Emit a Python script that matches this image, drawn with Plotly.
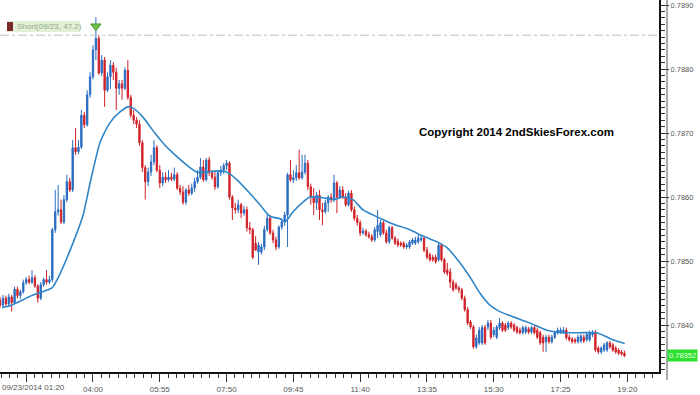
import plotly.graph_objects as go

PT = 1e-5  # prices below are given in points (0.00001)

opens = [
    78439,78431,78442,78433,78444,78435,78456,78446,78452,78466,
    78471,78467,78474,78461,78442,78463,78471,78467,78471,78549,
    78577,78580,78561,78596,78624,78611,78677,78671,78678,78728,
    78713,78760,78788,78830,78848,78794,78814,78767,78788,78806,
    78795,78770,78777,78770,78798,78756,78728,78720,78714,78685,
    78646,78624,78639,78655,78677,78642,78622,78631,78627,78631,
    78628,78635,78614,78608,78592,78611,78606,78614,78624,78631,
    78647,78627,78658,78638,78631,78616,78638,78642,78649,78653,
    78600,78583,78580,78588,78575,78580,78552,78549,78528,78514,
    78514,78522,78549,78567,78544,78533,78522,78553,78561,78572,
    78635,78627,78630,78638,78630,78639,78653,78616,78600,78591,
    78603,78580,78577,78591,78600,78596,78622,78600,78611,78600,
    78588,78606,78580,78567,78560,78544,78547,78541,78538,78533,
    78546,78541,78560,78544,78530,78552,78536,78531,78528,78528,
    78522,78522,78528,78528,78530,78533,78536,78517,78510,78506,
    78506,78502,78525,78502,78486,78483,78467,78463,78458,78455,
    78442,78424,78405,78397,78366,78372,78372,78396,78397,78403,
    78385,78381,78396,78403,78400,78396,78403,78400,78396,78392,
    78388,78389,78394,78389,78396,78392,78388,78381,78374,78381,
    78374,78381,78388,78389,78389,78392,78381,78378,78377,78374,
    78375,78381,78377,78377,78385,78389,78364,78358,78361,78361,
    78372,78369,78364,78361,78358,78356]

highs = [
    78444,78447,78446,78449,78447,78460,78460,78455,78471,78475,
    78477,78486,78478,78464,78467,78474,78486,78477,78552,78611,
    78619,78596,78603,78635,78630,78689,78708,78689,78736,78733,
    78767,78795,78837,78881,78853,78822,78819,78795,78814,78811,
    78802,78783,78783,78803,78814,78760,78736,78725,78720,78689,
    78650,78646,78666,78689,78681,78650,78639,78639,78642,78638,
    78646,78639,78619,78617,78614,78619,78621,78630,78642,78661,
    78658,78661,78663,78642,78639,78642,78649,78653,78658,78656,
    78603,78591,78596,78591,78586,78585,78561,78552,78539,78530,
    78527,78555,78574,78572,78549,78538,78556,78567,78577,78638,
    78658,78642,78650,78674,78666,78666,78658,78621,78614,78608,
    78611,78591,78596,78603,78606,78635,78625,78617,78617,78606,
    78610,78611,78585,78572,78564,78552,78550,78546,78542,78553,
    78580,78564,78563,78549,78555,78555,78539,78535,78531,78531,
    78528,78533,78536,78538,78541,78541,78539,78522,78513,78510,
    78510,78530,78528,78505,78497,78489,78471,78467,78461,78458,
    78446,78428,78408,78400,78385,78397,78400,78400,78408,78408,
    78397,78400,78411,78406,78403,78406,78406,78403,78399,78396,
    78399,78399,78397,78399,78399,78396,78391,78385,78385,78385,
    78385,78391,78396,78396,78397,78396,78385,78381,78380,78385,
    78386,78385,78388,78391,78392,78392,78367,78367,78372,78375,
    78375,78372,78367,78364,78361,78360]

lows = [
    78427,78428,78430,78430,78421,78433,78442,78441,78449,78463,
    78464,78464,78458,78435,78439,78460,78463,78464,78467,78544,
    78571,78558,78558,78592,78608,78608,78666,78667,78675,78708,
    78710,78755,78784,78814,78791,78789,78741,78764,78769,78783,
    78736,78760,78752,78767,78752,78724,78714,78708,78680,78639,
    78596,78617,78633,78650,78639,78614,78617,78622,78624,78625,
    78625,78611,78603,78588,78588,78602,78603,78608,78621,78628,
    78624,78624,78633,78627,78611,78613,78633,78636,78642,78596,
    78564,78574,78575,78567,78571,78546,78542,78503,78517,78494,
    78510,78517,78546,78541,78528,78517,78519,78549,78555,78522,
    78624,78622,78625,78627,78627,78635,78611,78588,78572,78580,
    78564,78556,78574,78577,78591,78592,78575,78597,78597,78585,
    78585,78577,78563,78555,78539,78541,78538,78535,78530,78530,
    78536,78538,78541,78527,78527,78533,78525,78522,78522,78519,
    78519,78519,78525,78525,78527,78530,78514,78503,78499,78499,
    78496,78499,78499,78480,78477,78458,78452,78455,78450,78439,
    78421,78400,78394,78363,78363,78369,78369,78369,78392,78378,
    78381,78378,78392,78389,78389,78392,78394,78389,78386,78385,
    78385,78386,78386,78386,78385,78378,78369,78358,78358,78371,
    78371,78378,78385,78386,78386,78377,78374,78371,78371,78371,
    78372,78372,78374,78374,78381,78358,78355,78355,78358,78358,
    78363,78358,78355,78353,78352,78350]

closes = [
    78431,78442,78433,78444,78435,78456,78446,78452,78466,78471,
    78467,78474,78461,78442,78463,78471,78467,78471,78549,78577,
    78580,78561,78596,78624,78611,78677,78671,78678,78728,78713,
    78760,78788,78830,78848,78794,78814,78767,78788,78806,78795,
    78770,78777,78770,78798,78756,78728,78720,78714,78685,78646,
    78624,78639,78655,78677,78642,78622,78631,78627,78631,78628,
    78635,78614,78608,78592,78611,78606,78614,78624,78631,78647,
    78627,78658,78638,78631,78616,78638,78642,78649,78653,78600,
    78583,78580,78588,78575,78580,78552,78549,78506,78517,78525,
    78522,78549,78567,78544,78533,78522,78553,78561,78572,78635,
    78627,78630,78638,78630,78639,78653,78616,78600,78591,78603,
    78580,78577,78591,78600,78596,78622,78600,78611,78600,78588,
    78606,78580,78567,78560,78544,78547,78541,78538,78533,78549,
    78556,78560,78544,78530,78552,78536,78528,78525,78525,78522,
    78525,78530,78533,78533,78536,78536,78517,78506,78502,78502,
    78499,78525,78502,78483,78481,78467,78455,78458,78455,78442,
    78424,78403,78397,78366,78380,78392,78396,78372,78403,78381,
    78392,78397,78403,78392,78392,78403,78397,78392,78389,78388,
    78396,78396,78389,78396,78388,78381,78372,78372,78381,78374,
    78381,78388,78392,78392,78392,78380,78377,78374,78374,78381,
    78383,78375,78385,78388,78389,78361,78358,78364,78369,78372,
    78366,78361,78358,78356,78355,78352]

# moving average (bar index, price points)
ma_idx = [0.7, 3.4, 11.3, 17.9, 20, 25.1, 28.6, 31, 34.4, 37.8, 41.3, 44, 45.8, 49.2,
          53.3, 56.8, 59.5, 64.3, 67.8, 71.2, 74.7, 78.1, 81.6, 86, 89.5, 92.9, 96.4,
          98.1, 100.9, 104.3, 106.7, 111.2, 114.6, 118.1, 121.5, 125, 130.8, 135.3,
          141.1, 145.6, 150.4, 153.9, 158.4, 161.8, 165.2, 168.7, 172.1, 176.6, 182.5,
          188.3, 193.8, 199.7, 205.5, 211, 215.1]
ma_val = [78427, 78430, 78447, 78458, 78474, 78528, 78572, 78622, 78685, 78716, 78733,
          78741, 78739, 78725, 78700, 78681, 78669, 78650, 78639, 78639, 78641, 78639,
          78627, 78606, 78588, 78570, 78566, 78561, 78577, 78592, 78600, 78599, 78596,
          78600, 78596, 78580, 78567, 78558, 78549, 78539, 78530, 78521, 78497, 78475,
          78450, 78431, 78421, 78413, 78403, 78392, 78388, 78388, 78388, 78377, 78371]

tick_idx = [9, 32, 55, 78, 101, 124, 147, 170, 193, 216]
tick_txt = ["", "04:00", "05:55", "07:50", "09:45", "11:40", "13:35", "15:30", "17:25", "19:20"]
first_label = "09/23/2014 01:20"

short_level = 78853
signal_bar = 33
signal_price = 78867
last_price = 78352
last_label = "0.78352"
legend_text = "Short(09/23, 47.2)"
copyright_text = "Copyright 2014 2ndSkiesForex.com"

n = len(closes)
x = list(range(n))
sc = lambda a: [v * PT for v in a]

BLUE = "#2a6cc0"
RED = "#d02228"

fig = go.Figure()
fig.add_trace(go.Candlestick(
    x=x, open=sc(opens), high=sc(highs), low=sc(lows), close=sc(closes),
    increasing=dict(line=dict(color=BLUE, width=1), fillcolor=BLUE),
    decreasing=dict(line=dict(color=RED, width=1), fillcolor=RED),
    whiskerwidth=0, showlegend=False, hoverinfo="skip"))
fig.add_trace(go.Scatter(
    x=ma_idx, y=sc(ma_val), mode="lines",
    line=dict(color="#2f86c8", width=1.6, shape="spline", smoothing=0.6),
    showlegend=False, hoverinfo="skip"))
fig.add_trace(go.Scatter(
    x=[signal_bar], y=[signal_price * PT], mode="markers",
    marker=dict(symbol="triangle-down", size=9, color="#6cc04a",
                line=dict(color="#4a9a30", width=1)),
    showlegend=False, hoverinfo="skip"))

W, H = 659.0, 372.0
shapes = [
    dict(type="line", xref="paper", yref="y", x0=0, x1=1,
         y0=short_level * PT, y1=short_level * PT,
         line=dict(color="#c0c0c0", width=1, dash="dashdot")),
    dict(type="rect", xref="paper", yref="paper", x0=7 / W, x1=80 / W,
         y0=1 - 32 / H, y1=1 - 21 / H, fillcolor="#e2efd6", line=dict(width=0)),
    dict(type="rect", xref="paper", yref="paper", x0=7 / W, x1=13 / W,
         y0=1 - 31 / H, y1=1 - 22 / H, fillcolor="#7b2a2a", line=dict(width=0)),
    dict(type="line", xref="paper", yref="paper", x0=667 / W, x1=667 / W,
         y0=-8 / H, y1=1, line=dict(color="#555555", width=1)),
]

annotations = [
    dict(text=legend_text, xref="paper", yref="paper", x=15 / W, y=1 - 26.5 / H,
         xanchor="left", yanchor="middle", showarrow=False,
         font=dict(family="Liberation Sans", size=8, color="#93ad85")),
    dict(text="<b>" + copyright_text + "</b>", xref="paper", yref="paper",
         x=516.5 / W, y=1 - 132 / H, xanchor="center", yanchor="middle",
         showarrow=False, font=dict(family="Liberation Sans", size=11.5, color="#000000")),
    dict(text=last_label, xref="paper", yref="y", x=667 / W, y=last_price * PT,
         xanchor="left", yanchor="middle", showarrow=False, bgcolor="#2de02d",
         borderpad=1, font=dict(family="Liberation Sans", size=7.5, color="#e8ffe8")),
    dict(text=first_label, xref="paper", yref="paper", x=0, y=0, yshift=-15,
         xanchor="left", yanchor="middle", showarrow=False,
         font=dict(family="Liberation Sans", size=8, color="#555555")),
]

fig.update_layout(
    width=700, height=395,
    margin=dict(l=0, r=41, t=0, b=23),
    paper_bgcolor="white", plot_bgcolor="white",
    shapes=shapes, annotations=annotations,
    boxgap=0.35,
    xaxis=dict(range=[-0.02, 226.9], rangeslider=dict(visible=False),
               showgrid=False, zeroline=False, showline=True, linewidth=2,
               linecolor="#111111", ticks="outside", ticklen=8, tickcolor="#333333",
               tickvals=tick_idx, ticktext=tick_txt,
               tickfont=dict(family="Liberation Sans", size=8, color="#555555"),
               minor=dict(dtick=2.875, tick0=9, ticks="outside", ticklen=4,
                          tickcolor="#333333")),
    yaxis=dict(range=[0.783266, 0.78908], side="right", showgrid=False,
               zeroline=False, showline=True, linewidth=2, linecolor="#111111",
               ticks="outside", ticklen=8, tickcolor="#333333",
               dtick=0.001, tick0=0.784, tickformat=".4f",
               tickfont=dict(family="Liberation Sans", size=7.5, color="#555555"),
               minor=dict(dtick=0.0001, ticks="outside", ticklen=4,
                          tickcolor="#333333")),
)

fig.write_html("out.html", config={"displayModeBar": False},
               post_script="document.body.style.margin='0';document.body.style.overflow='hidden';")
